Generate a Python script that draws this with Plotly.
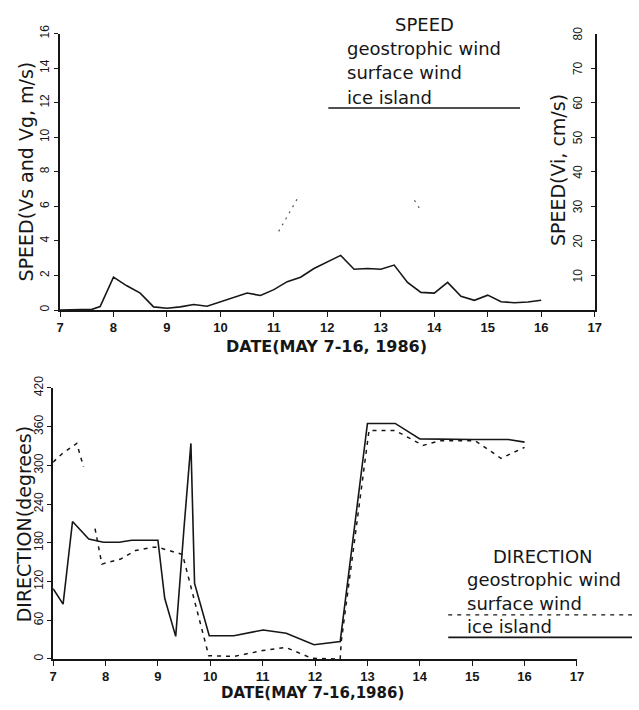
import plotly.graph_objects as go

W, H = 639, 710

# ---------------- data ----------------
# Top panel: ice island speed (cm/s, right axis)
speed_dates = [7.0, 7.6, 7.75, 8.0, 8.25, 8.5, 8.75, 9.0, 9.25, 9.5, 9.75, 10.0,
               10.25, 10.5, 10.75, 11.0, 11.25, 11.5, 11.75, 12.0, 12.25, 12.5,
               12.75, 13.0, 13.25, 13.5, 13.75, 14.0, 14.25, 14.5, 14.75, 15.0,
               15.25, 15.5, 15.75, 16.0]
ice_speed = [0.0, 0.2, 1.0, 9.5, 7.0, 4.9, 0.9, 0.5, 0.9, 1.6, 1.1, 2.3,
             3.5, 4.9, 4.2, 5.9, 8.2, 9.5, 12.0, 13.9, 15.8, 11.8,
             12.0, 11.8, 13.0, 8.0, 5.1, 4.9, 8.0, 4.0, 2.8, 4.3,
             2.4, 2.1, 2.3, 2.8]
# faint visible fragments of the wind speed (m/s, left axis)
wind_frag_dates = [11.09, 11.45, None, 13.63, 13.73]
wind_frag_speed = [4.55, 6.5, None, 6.35, 5.85]

# Bottom panel: direction (degrees)
dir_ice_dates = [7.0, 7.19, 7.37, 7.68, 7.96, 8.26, 8.5, 9.0, 9.13, 9.34, 9.5,
                 9.63, 9.70, 9.98, 10.45, 11.01, 11.45, 11.98, 12.48, 13.0,
                 13.53, 14.0, 15.0, 15.69, 16.0]
dir_ice = [109, 85, 213, 186, 181, 181, 184, 184, 94, 35, 205,
           334, 117, 36, 36, 45, 40, 22, 27, 365,
           365, 341, 340, 340, 336]
dir_sfc_dates = [7.0, 7.17, 7.45, 7.58, None, 7.8, 7.93, 8.29, 8.57, 8.9, 9.0,
                 9.47, 9.81, 9.97, 10.45, 11.0, 11.44, 11.69, 11.94, 12.47,
                 12.48, 12.5, 13.03, 13.53, 14.06, 14.38, 15.06, 15.55, 16.0]
dir_sfc = [305, 318, 334, 298, None, 202, 147, 155, 168, 173, 173,
           162, 56, 5, 4, 13, 18, 9, 1, 0,
           0, 27, 354, 354, 331, 338, 338, 311, 328]

x_ticks = list(range(7, 18))
speed_ticks = list(range(0, 17, 2))
speed2_ticks = list(range(10, 81, 10))
dir_ticks = list(range(0, 421, 60))

# ---------------- figure ----------------
INK = "#161616"
TXT = "DejaVu Sans"
TICK = "Liberation Sans"

def px_x(p):
    return p / W

def px_y(p):
    return 1 - p / H

fig = go.Figure()

fig.add_trace(go.Scatter(x=speed_dates, y=ice_speed, mode="lines", yaxis="y2", xaxis="x",
                         line=dict(color=INK, width=1.6), name="ice island", showlegend=False))
fig.add_trace(go.Scatter(x=wind_frag_dates, y=wind_frag_speed, mode="lines", yaxis="y", xaxis="x",
                         line=dict(color="#555", width=1.2, dash="2px,5px"), connectgaps=False,
                         name="surface wind", showlegend=False))

fig.add_trace(go.Scatter(x=dir_sfc_dates, y=dir_sfc, mode="lines", xaxis="x2", yaxis="y3",
                         line=dict(color=INK, width=1.5, dash="4px,5px"), connectgaps=False,
                         name="surface wind", showlegend=False))
fig.add_trace(go.Scatter(x=dir_ice_dates, y=dir_ice, mode="lines", xaxis="x2", yaxis="y3",
                         line=dict(color=INK, width=1.6), name="ice island", showlegend=False))

axis_common = dict(showline=True, linecolor=INK, linewidth=1.5, showgrid=False,
                   zeroline=False, mirror=False)

fig.update_layout(
    width=W, height=H,
    margin=dict(l=0, r=0, t=0, b=0),
    paper_bgcolor="white", plot_bgcolor="white",
    showlegend=False,
    xaxis=dict(domain=[px_x(57), px_x(601)], anchor="y", range=[7, 17],
               tickvals=x_ticks, ticks="outside", ticklen=5, tickcolor=INK,
               tickfont=dict(family=TICK, size=13, color=INK, weight="bold"),
               **axis_common),
    yaxis=dict(domain=[px_y(304), px_y(22)], anchor="x", range=[0, 16],
               tickvals=speed_ticks, ticks="outside", ticklen=4, tickcolor=INK,
               tickangle=-90, tickfont=dict(family=TICK, size=12, color=INK),
               **axis_common),
    yaxis2=dict(overlaying="y", anchor="x", side="right", range=[0, 80],
                tickvals=speed2_ticks, ticks="inside", ticklen=4, tickcolor=INK,
                showticklabels=False,
                **axis_common),
    xaxis2=dict(domain=[px_x(50), px_x(583)], anchor="y3", range=[7, 17],
                tickvals=x_ticks, ticks="outside", ticklen=5, tickcolor=INK,
                tickfont=dict(family=TICK, size=13, color=INK, weight="bold"),
                **axis_common),
    yaxis3=dict(domain=[px_y(660), px_y(383.5)], anchor="x2", range=[0, 420],
                tickvals=dir_ticks, ticks="outside", ticklen=4, tickcolor=INK,
                tickangle=-90, tickfont=dict(family=TICK, size=12, color=INK),
                **axis_common),
)

ann = []
def text(x, y, s, size=18, anchor="left", angle=0, bold=False):
    ann.append(dict(x=px_x(x), y=px_y(y), xref="paper", yref="paper", text=("<b>%s</b>" % s) if bold else s,
                    showarrow=False, xanchor=anchor, yanchor="middle", textangle=angle,
                    font=dict(family=TXT, size=size, color=INK)))

# right-axis tick labels (drawn inside the plot, as in the original)
for v in speed2_ticks:
    ann.append(dict(x=px_x(584), y=v, xref="paper", yref="y2", text=str(v), showarrow=False,
                    xanchor="center", yanchor="middle", textangle=-90,
                    font=dict(family=TICK, size=12, color=INK)))

# axis titles
text(22, 163, "SPEED(Vs and Vg, m/s)", size=19, anchor="center", angle=-90)
text(564, 161, "SPEED(Vi, cm/s)", size=19, anchor="center", angle=-90)
text(328, 341, "DATE(MAY 7-16, 1986)", size=16, anchor="center", bold=True)
text(20, 523, "DIRECTION(degrees)", size=19, anchor="center", angle=-90)
text(314, 695, "DATE(MAY 7-16,1986)", size=15, anchor="center", bold=True)

# top legend
text(428, 13, "SPEED", size=18, anchor="center")
text(347, 37, "geostrophic wind", size=18)
text(347, 62, "surface wind", size=18)
text(347, 87, "ice island", size=18)
# bottom legend
text(548, 555, "DIRECTION", size=18, anchor="center")
text(469, 579, "geostrophic wind", size=18)
text(469, 603, "surface wind", size=18)
text(469, 627, "ice island", size=18)

fig.update_layout(annotations=ann)

shapes = [
    dict(type="line", xref="paper", yref="paper", x0=px_x(330), x1=px_x(525),
         y0=px_y(98), y1=px_y(98), line=dict(color=INK, width=1.6)),
    dict(type="line", xref="paper", yref="paper", x0=px_x(452), x1=px_x(639),
         y0=px_y(615), y1=px_y(615), line=dict(color=INK, width=1.4, dash="4px,5px")),
    dict(type="line", xref="paper", yref="paper", x0=px_x(452), x1=px_x(639),
         y0=px_y(638), y1=px_y(638), line=dict(color=INK, width=1.6)),
]
fig.update_layout(shapes=shapes)

fig.write_html("out.html")
